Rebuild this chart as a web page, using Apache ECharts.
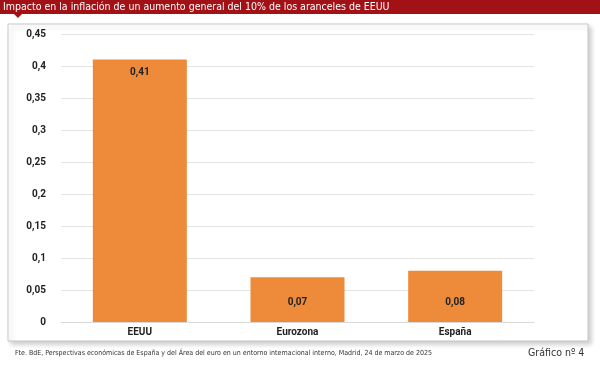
<!DOCTYPE html>
<html><head><meta charset="utf-8">
<script src="https://cdn.jsdelivr.net/npm/echarts@6/dist/echarts.min.js"></script>
<style>html,body{margin:0;padding:0;background:#fff}#c{width:600px;height:366px}</style>
</head><body><div id="c"></div>
<script>
const categories = ['EEUU', 'Eurozona', 'España'];
const values = [0.41, 0.07, 0.08];
const yTicks = [0, 0.05, 0.1, 0.15, 0.2, 0.25, 0.3, 0.35, 0.4, 0.45];
const titleText = 'Impacto en la inflación de un aumento general del 10% de los aranceles de EEUU';
const sourceText = 'Fte. BdE, Perspectivas económicas de España y del Área del euro en un entorno internacional interno, Madrid, 24 de marzo de 2025';
const chartNo = 'Gráfico nº 4';

const fmt = v => String(+v.toFixed(2)).replace('.', ',');
const labelBase = {show: true, color: '#222', fontWeight: 'bold', fontSize: 10, fontFamily: 'Roboto, sans-serif', formatter: p => fmt(p.value)};
const chart = echarts.init(document.getElementById('c'), null, {renderer: 'canvas'});
chart.setOption({
  animation: false,
  graphic: [
    {type: 'rect', shape: {x: 8, y: 24, width: 580, height: 317}, style: {fill: '#fff', stroke: '#c8c8c8', lineWidth: 1, shadowBlur: 5, shadowOffsetX: 3, shadowOffsetY: 3, shadowColor: 'rgba(0,0,0,0.2)'}, z: -10},
    {type: 'rect', shape: {x: 0, y: 0, width: 600, height: 14}, style: {fill: '#a11116'}, z: 10},
    {type: 'polygon', shape: {points: [[14, 14], [22, 14], [18, 18]]}, style: {fill: '#a11116'}, z: 10},
    {type: 'text', x: 3, y: 1.5, style: {text: titleText, fill: '#fff', font: '10.5px "Liberation Sans Narrow", "DejaVu Sans Condensed", sans-serif'}, z: 11},
    {type: 'text', x: 15, y: 350, style: {text: sourceText, fill: '#333', font: '7px "Liberation Sans Narrow", "DejaVu Sans Condensed", sans-serif'}},
    {type: 'text', x: 528, y: 348, style: {text: chartNo, fill: '#333', font: '10.5px "Liberation Sans Narrow", "DejaVu Sans Condensed", sans-serif'}}
  ],
  grid: {left: 61, right: 66, top: 34, bottom: 44},
  xAxis: {
    type: 'category', data: categories,
    axisLine: {show: true, lineStyle: {color: '#d9d9d9'}},
    axisTick: {show: false},
    axisLabel: {color: '#222', fontWeight: 'bold', fontSize: 10, fontFamily: 'Roboto, sans-serif', margin: 5}
  },
  yAxis: {
    type: 'value', min: 0, max: 0.45, interval: 0.05,
    axisLine: {show: false}, axisTick: {show: false},
    splitLine: {lineStyle: {color: '#e4e4e4'}},
    axisLabel: {color: '#222', fontWeight: 'bold', fontSize: 10, fontFamily: 'Roboto, sans-serif', margin: 15,
      formatter: v => yTicks.some(t => Math.abs(t - v) < 1e-9) ? fmt(v) : ''}
  },
  series: [{
    type: 'bar', barWidth: 94,
    data: values.map((v, i) => ({
      value: v,
      label: i === 0 ? Object.assign({}, labelBase, {position: 'insideTop', distance: 8})
                     : Object.assign({}, labelBase, {position: 'insideBottom', distance: 15})
    })),
    itemStyle: {color: '#ed8b3b'},
    label: labelBase
  }]
});
</script></body></html>
